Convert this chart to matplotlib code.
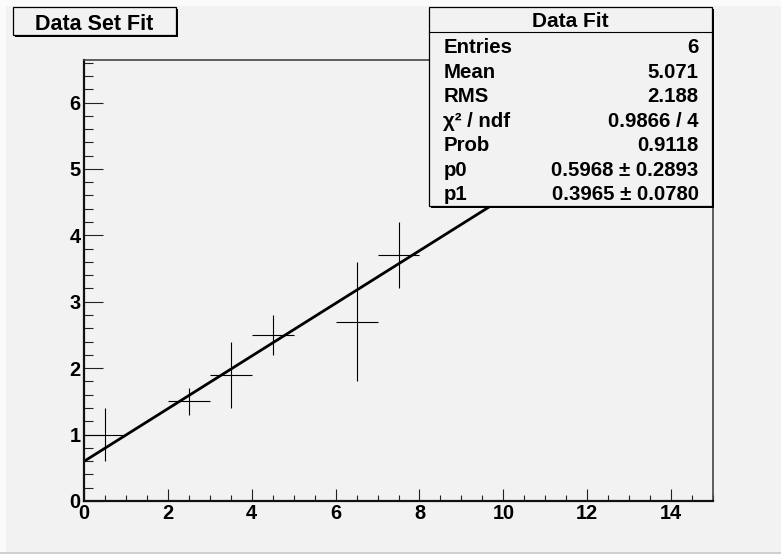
import numpy as np
import matplotlib
matplotlib.use("Agg")
import matplotlib.pyplot as plt
from matplotlib.patches import Rectangle
from matplotlib.lines import Line2D
from matplotlib.ticker import MultipleLocator

# ---- data ----
x_vals = [0.5, 2.5, 3.5, 4.5, 6.5, 7.5]
x_errs = [0.5, 0.5, 0.5, 0.5, 0.5, 0.5]
y_vals = [1.0, 1.5, 1.9, 2.5, 2.7, 3.7]
y_errs = [0.4, 0.2, 0.5, 0.3, 0.9, 0.5]
fit_p0 = 0.5968
fit_p1 = 0.3965
x_range = [0, 15]
y_range = [0, 6.64]
x_ticks = [0, 2, 4, 6, 8, 10, 12, 14]
x_ticklabels = ["0", "2", "4", "6", "8", "10", "12", "14"]
y_ticks = [0, 1, 2, 3, 4, 5, 6]
y_ticklabels = ["0", "1", "2", "3", "4", "5", "6"]
title = "Data Set Fit"
stats_title = "Data Fit"
stats_labels = ["Entries", "Mean", "RMS", "χ² / ndf", "Prob", "p0", "p1"]
stats_values = ["6", "5.071", "2.188", "0.9866 / 4", "0.9118",
                "0.5968 ± 0.2893", "0.3965 ± 0.0780"]

W, H = 781, 554
BG = "#f2f2f2"
plt.rcParams['font.family'] = ['Liberation Sans', 'DejaVu Sans']
plt.rcParams['font.weight'] = 'bold'

fig = plt.figure(figsize=(W / 100, H / 100), dpi=100, facecolor=BG)

def fx(px):
    return px / W

def fy(py):
    return 1 - py / H

# canvas bevel
fig.add_artist(Rectangle((0, fy(6)), 1, 6 / H, transform=fig.transFigure,
                         facecolor="#fbfbfb", edgecolor="none", zorder=0.5))
fig.add_artist(Rectangle((0, 0), 6 / W, 1, transform=fig.transFigure,
                         facecolor="#fbfbfb", edgecolor="none", zorder=0.5))
fig.add_artist(Rectangle((0, 0), 1, 2 / H, transform=fig.transFigure,
                         facecolor="#d0d0d0", edgecolor="none", zorder=0.5))

ax_l, ax_r, ax_t, ax_b = 84, 713, 60, 501
ax = fig.add_axes([fx(ax_l), fy(ax_b), (ax_r - ax_l) / W, (ax_b - ax_t) / H])
ax.set_facecolor(BG)

ax.errorbar(x_vals, y_vals, xerr=x_errs, yerr=y_errs, fmt='none',
            ecolor='black', elinewidth=0.8, capsize=0)
xf = np.linspace(x_range[0], x_range[1], 200)
ax.plot(xf, fit_p0 + fit_p1 * xf, color='black', lw=2.0, solid_capstyle='butt')

ax.set_xticks(x_ticks, x_ticklabels, fontsize=14.4, fontweight='bold',
              family='Liberation Sans')
ax.set_yticks(y_ticks, y_ticklabels, fontsize=14.4, fontweight='bold',
              family='Liberation Sans')
ax.xaxis.set_minor_locator(MultipleLocator(0.5))
ax.yaxis.set_minor_locator(MultipleLocator(0.2))
ax.set_xlim(*x_range)
ax.set_ylim(*y_range)
ax.tick_params(axis='x', which='major', direction='in', length=8.6, width=0.8,
               pad=2.5, color='#222222')
ax.tick_params(axis='x', which='minor', direction='in', length=4.3, width=0.8,
               color='#222222')
ax.tick_params(axis='y', which='major', direction='in', length=13.4, width=0.8,
               pad=2.5, color='#222222')
ax.tick_params(axis='y', which='minor', direction='in', length=6.7, width=0.8,
               color='#222222')
for s in ['left', 'bottom']:
    ax.spines[s].set_linewidth(1.6)
    ax.spines[s].set_color('#111111')
for s in ['top', 'right']:
    ax.spines[s].set_linewidth(1.2)
    ax.spines[s].set_color('#444444')

# title box
def box(l, t, r, b, z=5):
    fig.add_artist(Rectangle((fx(l + 2), fy(b + 2)), (r - l) / W, (b - t) / H,
                             transform=fig.transFigure, facecolor='black',
                             edgecolor='none', zorder=z))
    fig.add_artist(Rectangle((fx(l), fy(b)), (r - l) / W, (b - t) / H,
                             transform=fig.transFigure, facecolor=BG,
                             edgecolor='black', lw=0.9, zorder=z + 0.1))

box(13, 7, 176, 35)
fig.text(fx(94.5), fy(30), title, ha='center', va='baseline', fontsize=15.5,
         fontweight='bold', zorder=6)

# stats box
sl, st, sr, sb = 429, 7, 712, 206
box(sl, st, sr, sb)
fig.add_artist(Line2D([fx(sl), fx(sr)], [fy(31.7), fy(31.7)],
                      transform=fig.transFigure, color='black', lw=0.8, zorder=6))
fig.text(fx((sl + sr) / 2), fy(27.3), stats_title, ha='center', va='baseline',
         fontsize=15, fontweight='bold', zorder=6)
base0, step = 53.3, 24.45
for i, (lab, val) in enumerate(zip(stats_labels, stats_values)):
    yb = base0 + i * step
    fig.text(fx(443.5), fy(yb), lab, ha='left', va='baseline', fontsize=14.7,
             fontweight='bold', zorder=6)
    fig.text(fx(698.5), fy(yb), val, ha='right', va='baseline', fontsize=14.7,
             fontweight='bold', zorder=6)

fig.savefig("out.png", dpi=100, facecolor=BG)
